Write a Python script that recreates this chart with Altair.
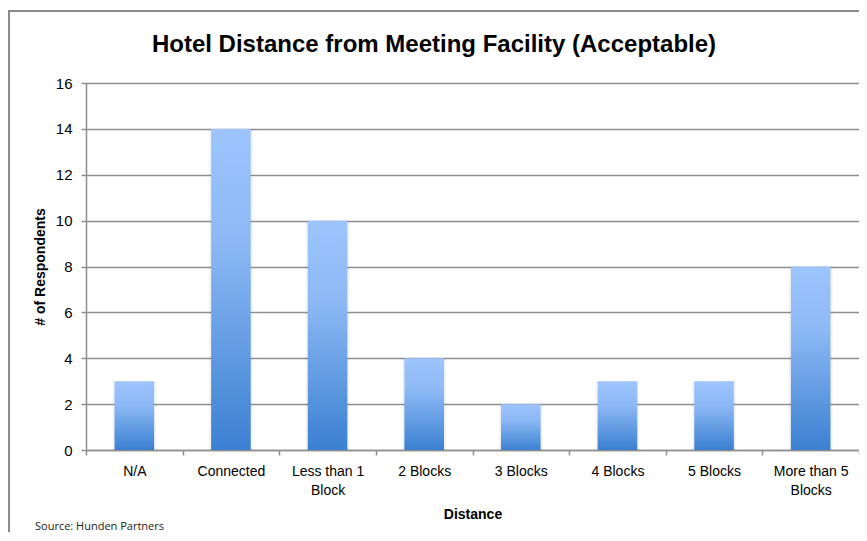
import altair as alt
import pandas as pd

categories = ["N/A", "Connected", "Less than 1 Block", "2 Blocks", "3 Blocks",
              "4 Blocks", "5 Blocks", "More than 5 Blocks"]
respondents = [3, 14, 10, 4, 2, 3, 3, 8]
y_ticks = [0, 2, 4, 6, 8, 10, 12, 14, 16]

chart_title = "Hotel Distance from Meeting Facility (Acceptable)"
source_note = "Source: Hunden Partners"

df = pd.DataFrame({"Distance": categories, "Respondents": respondents})

FONT = "Liberation Sans"
GRID = "#8e8e8e"

label_expr = (
    "datum.label == 'Less than 1 Block' ? ['Less than 1', 'Block'] : "
    "datum.label == 'More than 5 Blocks' ? ['More than 5', 'Blocks'] : datum.label"
)

x_enc = alt.X(
    "Distance:N",
    sort=categories,
    scale=alt.Scale(paddingInner=0, paddingOuter=0),
    axis=alt.Axis(
        title="Distance",
        labelAngle=0,
        labelExpr=label_expr,
        labelFont=FONT,
        labelFontSize=14,
        labelColor="#000000",
        labelLineHeight=19,
        labelPadding=9,
        labelBaseline="top",
        tickBand="extent",
        tickSize=5,
        tickColor=GRID,
        tickWidth=1.5,
        domainColor=GRID,
        domainWidth=1.5,
        grid=False,
        titleFont=FONT,
        titleFontSize=14,
        titleFontWeight="bold",
        titleColor="#000000",
        titlePadding=10,
    ),
)
y_enc = alt.Y(
    "Respondents:Q",
    scale=alt.Scale(domain=[0, 16], nice=False),
    axis=alt.Axis(
        title="# of Respondents",
        values=y_ticks,
        labelFont=FONT,
        labelFontSize=15,
        labelColor="#000000",
        labelPadding=9,
        tickSize=5,
        tickColor=GRID,
        tickWidth=1.5,
        domainColor=GRID,
        domainWidth=1.5,
        grid=True,
        gridColor=GRID,
        gridWidth=1.5,
        titleFont=FONT,
        titleFontSize=14,
        titleFontWeight="bold",
        titleColor="#000000",
        titlePadding=8,
    ),
)

base = alt.Chart(df)

shadow = base.mark_bar(width=alt.RelativeBandSize(0.45), color="#000000", opacity=0.05).encode(
    x=x_enc, y=y_enc
)

bars = base.mark_bar(
    width=alt.RelativeBandSize(0.41),
    color=alt.Gradient(
        gradient="linear",
        stops=[
            alt.GradientStop(color="#9dc4fd", offset=0),
            alt.GradientStop(color="#8cb9f5", offset=0.35),
            alt.GradientStop(color="#3b80d1", offset=1),
        ],
        x1=0, x2=0, y1=0, y2=1,
    ),
).encode(x=x_enc, y=y_enc)

frame = alt.Chart(pd.DataFrame({"k": [0]})).mark_rect(
    fill=None, stroke="#8a8a8a", strokeWidth=2
).encode(
    x=alt.value(-77), x2=alt.value(900), y=alt.value(-72), y2=alt.value(600)
)

title_text = alt.Chart(pd.DataFrame({"t": [chart_title]})).mark_text(
    font=FONT, fontSize=24, fontWeight="bold", color="#000000",
    align="center", baseline="alphabetic",
).encode(text="t:N", x=alt.value(348), y=alt.value(-31))

source_text = alt.Chart(pd.DataFrame({"t": [source_note]})).mark_text(
    font="Open Sans", fontSize=11, color="#222222",
    align="left", baseline="middle",
).encode(text="t:N", x=alt.value(-51), y=alt.value(444))

chart = alt.layer(frame, shadow, bars, title_text, source_text).properties(
    width=773,
    height=367,
    autosize=alt.AutoSizeParams(type="none"),
    padding={"left": 78, "top": 75, "right": 0, "bottom": 82},
).configure_view(stroke=None).configure(background="white")

chart.save("out.html", embed_options={"renderer": "svg", "actions": False})
